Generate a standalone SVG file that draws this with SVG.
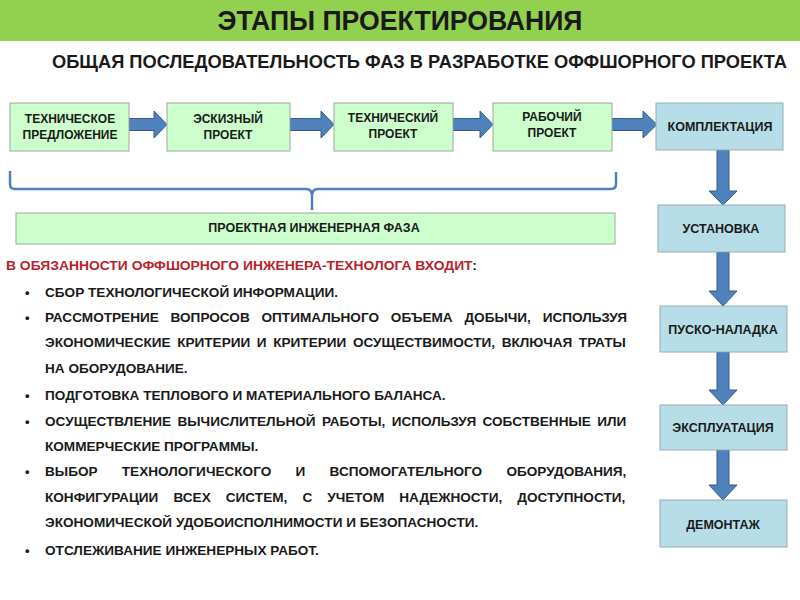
<svg xmlns="http://www.w3.org/2000/svg" width="800" height="600" viewBox="0 0 800 600">
<style>
text{font-family:"Liberation Sans",Arial,sans-serif;font-weight:bold;fill:#1a1a1a}
.g{fill:#CCFFCC;stroke:#A0A8A0;stroke-width:1}
.b{fill:#B7DEE8;stroke:#98AAB0;stroke-width:1}
.bt{font-size:12px;text-anchor:middle}
.rt{font-size:12.5px;text-anchor:middle}
.ar{fill:#4F81BD;stroke:#385D8A;stroke-width:1}
.li{font-size:13.6px}
</style>
<rect x="0" y="0" width="800" height="41" fill="#92D050"/>
<text x="400" y="30" font-size="27" text-anchor="middle" textLength="365" lengthAdjust="spacingAndGlyphs" fill="#111">ЭТАПЫ ПРОЕКТИРОВАНИЯ</text>
<text x="52" y="68" font-size="17.5" textLength="735" lengthAdjust="spacingAndGlyphs">ОБЩАЯ ПОСЛЕДОВАТЕЛЬНОСТЬ ФАЗ В РАЗРАБОТКЕ ОФФШОРНОГО ПРОЕКТА</text>

<g id="connectors">
<path class="ar" d="M129,118.5H154V111L167,124.5L154,138V130.5H129Z"/>
<path class="ar" d="M290,118.5H321V111L334,124.5L321,138V130.5H290Z"/>
<path class="ar" d="M453,118.5H480V111L493,124.5L480,138V130.5H453Z"/>
<path class="ar" d="M612,118.5H643V111L657,124.5L643,138V130.5H612Z"/>
<path class="ar" d="M717,150H729V191H737L723,205L709,191H717Z"/>
<path class="ar" d="M717,252H729V291H737L723,306L709,291H717Z"/>
<path class="ar" d="M717,352H729V390H737L723,405L709,390H717Z"/>
<path class="ar" d="M717,450H729V485H737L723,500L709,485H717Z"/>
<path d="M10,171V184Q10,189 15,189H306Q312,189 312,196V210M312,196Q312,189 318,189H611Q616,189 616,184V172" fill="none" stroke="#4F81BD" stroke-width="2.5"/>
</g>

<g id="n1"><rect class="g" x="10" y="103" width="119" height="48"/><text class="bt" x="70" y="123">ТЕХНИЧЕСКОЕ</text><text class="bt" x="70" y="139">ПРЕДЛОЖЕНИЕ</text></g>
<g id="n2"><rect class="g" x="167" y="103" width="123" height="48"/><text class="bt" x="228" y="123">ЭСКИЗНЫЙ</text><text class="bt" x="228" y="139">ПРОЕКТ</text></g>
<g id="n3"><rect class="g" x="334" y="103" width="119" height="48"/><text class="bt" x="393" y="122">ТЕХНИЧЕСКИЙ</text><text class="bt" x="393" y="138">ПРОЕКТ</text></g>
<g id="n4"><rect class="g" x="493" y="103" width="119" height="48"/><text class="bt" x="552" y="121">РАБОЧИЙ</text><text class="bt" x="552" y="137">ПРОЕКТ</text></g>
<g id="n5"><rect class="b" x="656" y="103" width="127" height="47"/><text class="rt" x="720" y="131">КОМПЛЕКТАЦИЯ</text></g>
<g id="n6"><rect class="b" x="658" y="205" width="127" height="47"/><text class="rt" x="721" y="233">УСТАНОВКА</text></g>
<g id="n7"><rect class="b" x="660" y="306" width="127" height="46"/><text class="rt" x="723" y="334">ПУСКО-НАЛАДКА</text></g>
<g id="n8"><rect class="b" x="660" y="405" width="127" height="45"/><text class="rt" x="723" y="432">ЭКСПЛУАТАЦИЯ</text></g>
<g id="n9"><rect class="b" x="660" y="500" width="127" height="47"/><text class="rt" x="723" y="529">ДЕМОНТАЖ</text></g>
<g id="phase"><rect class="g" x="16" y="213" width="599" height="31"/><text class="rt" x="314" y="232">ПРОЕКТНАЯ ИНЖЕНЕРНАЯ ФАЗА</text></g>

<g id="duties">
<text x="6" y="270" font-size="13.6" textLength="471" lengthAdjust="spacingAndGlyphs"><tspan fill="#B8232B">В ОБЯЗАННОСТИ ОФФШОРНОГО ИНЖЕНЕРА-ТЕХНОЛОГА ВХОДИТ</tspan>:</text>
<g font-size="13">
<text x="25" y="297">•</text>
<text x="25" y="322">•</text>
<text x="25" y="400">•</text>
<text x="25" y="426">•</text>
<text x="25" y="476">•</text>
<text x="25" y="555">•</text>
</g>
<text class="li" x="45" y="297">СБОР ТЕХНОЛОГИЧЕСКОЙ ИНФОРМАЦИИ.</text>
<text class="li" x="45" y="322" word-spacing="8">РАССМОТРЕНИЕ ВОПРОСОВ ОПТИМАЛЬНОГО ОБЪЕМА ДОБЫЧИ, ИСПОЛЬЗУЯ</text>
<text class="li" x="45" y="347" word-spacing="2.8">ЭКОНОМИЧЕСКИЕ КРИТЕРИИ И КРИТЕРИИ ОСУЩЕСТВИМОСТИ, ВКЛЮЧАЯ ТРАТЫ</text>
<text class="li" x="45" y="373">НА ОБОРУДОВАНИЕ.</text>
<text class="li" x="45" y="400">ПОДГОТОВКА ТЕПЛОВОГО И МАТЕРИАЛЬНОГО БАЛАНСА.</text>
<text class="li" x="45" y="426" word-spacing="2.6">ОСУЩЕСТВЛЕНИЕ ВЫЧИСЛИТЕЛЬНОЙ РАБОТЫ, ИСПОЛЬЗУЯ СОБСТВЕННЫЕ ИЛИ</text>
<text class="li" x="45" y="451">КОММЕРЧЕСКИЕ ПРОГРАММЫ.</text>
<text class="li" x="45" y="476" word-spacing="20.5">ВЫБОР ТЕХНОЛОГИЧЕСКОГО И ВСПОМОГАТЕЛЬНОГО ОБОРУДОВАНИЯ,</text>
<text class="li" x="45" y="502" word-spacing="11.3">КОНФИГУРАЦИИ ВСЕХ СИСТЕМ, С УЧЕТОМ НАДЕЖНОСТИ, ДОСТУПНОСТИ,</text>
<text class="li" x="45" y="527">ЭКОНОМИЧЕСКОЙ УДОБОИСПОЛНИМОСТИ И БЕЗОПАСНОСТИ.</text>
<text class="li" x="45" y="555">ОТСЛЕЖИВАНИЕ ИНЖЕНЕРНЫХ РАБОТ.</text>
</g>
</svg>
